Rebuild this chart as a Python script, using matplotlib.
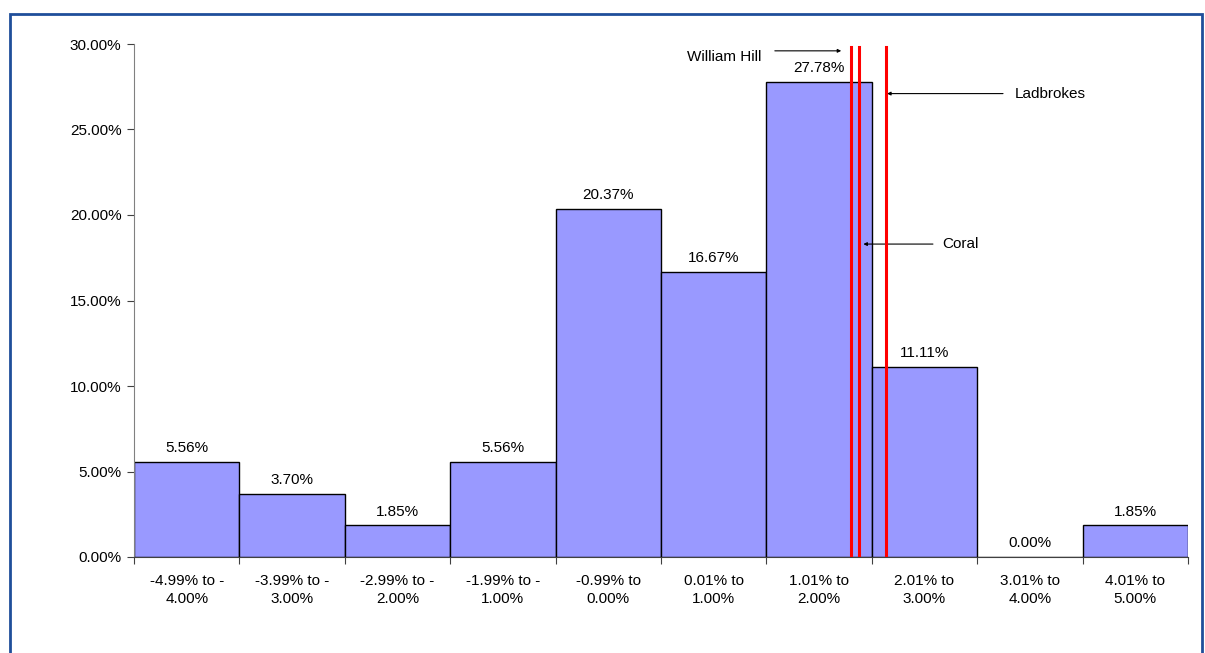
import matplotlib.pyplot as plt
from matplotlib.patches import Rectangle

plt.rcParams['font.family'] = ['Liberation Sans', 'DejaVu Sans']

# bin labels and share of results in each bin (%)
bins = ['-4.99% to -\n4.00%', '-3.99% to -\n3.00%', '-2.99% to -\n2.00%',
        '-1.99% to -\n1.00%', '-0.99% to\n0.00%', '0.01% to\n1.00%',
        '1.01% to\n2.00%', '2.01% to\n3.00%', '3.01% to\n4.00%',
        '4.01% to\n5.00%']
shares = [5.56, 3.70, 1.85, 5.56, 20.37, 16.67, 27.78, 11.11, 0.00, 1.85]

# bookmaker margins (%) marked by red lines
bookies = ['William Hill', 'Coral', 'Ladbrokes']
margins = [1.80, 1.88, 2.135]

yticks = [0, 5, 10, 15, 20, 25, 30]
FS = 11


def pos(m):
    # bin i covers (i-5)% .. (i-4)%
    return m + 5


fig = plt.figure(figsize=(12.05, 6.53), dpi=100)
ax = fig.add_axes([134 / 1205, 1 - 557 / 653, (1188 - 134) / 1205, (557 - 44) / 653])

x = list(range(len(shares)))
ax.bar(x, shares, width=1, align='edge', color='#9999FF', edgecolor='black', linewidth=1)
for i, v in enumerate(shares):
    ax.text(i + 0.5, v + 0.4, f'{v:.2f}%', ha='center', va='bottom', fontsize=FS)

for m in margins:
    ax.axvline(pos(m), ymin=0, ymax=0.995, color='#FF0000', linewidth=2.2, zorder=4)

ax.set_xlim(0, len(shares))
ax.set_ylim(0, 30)
ax.set_yticks(yticks)
ax.set_yticklabels([f'{t:.2f}%' for t in yticks], fontsize=FS)
ax.set_xticks(range(len(shares) + 1))
ax.set_xticklabels([])
ax.set_xticks([i + 0.5 for i in x], minor=True)
ax.set_xticklabels(bins, minor=True, fontsize=FS, linespacing=1.35)
ax.tick_params(axis='x', which='minor', length=0, pad=12)
ax.tick_params(axis='x', which='major', length=5, color='#404040')
ax.tick_params(axis='y', length=5, color='#404040', pad=4)
for s in ['top', 'right']:
    ax.spines[s].set_visible(False)
ax.spines['left'].set_color('#808080')
ax.spines['bottom'].set_color('#404040')

# annotations with arrows
arrow = dict(arrowstyle='-|>', color='black', linewidth=0.8, mutation_scale=5,
             shrinkA=0, shrinkB=0)
ax.annotate('', xy=(pos(margins[0]) - 0.09, 29.6), xytext=(pos(margins[0]) - 0.72, 29.6),
            arrowprops=arrow)
ax.text(pos(margins[0]) - 1.55, 29.25, bookies[0], ha='left', va='center', fontsize=FS)
ax.annotate('', xy=(pos(margins[2]) + 0.01, 27.1), xytext=(pos(margins[2]) + 1.11, 27.1),
            arrowprops=arrow)
ax.text(pos(margins[2]) + 1.22, 27.05, bookies[2], ha='left', va='center', fontsize=FS)
ax.annotate('', xy=(pos(margins[1]) + 0.04, 18.3), xytext=(pos(margins[1]) + 0.70, 18.3),
            arrowprops=arrow)
ax.text(pos(margins[1]) + 0.79, 18.3, bookies[1], ha='left', va='center', fontsize=FS)

# outer border
fig.patches.append(Rectangle((10 / 1205, -0.1), (1202 - 10) / 1205, 1.1 - 14 / 653,
                             transform=fig.transFigure, fill=False,
                             edgecolor='#1F4E9A', linewidth=2))

fig.savefig('out.png', dpi=100)
